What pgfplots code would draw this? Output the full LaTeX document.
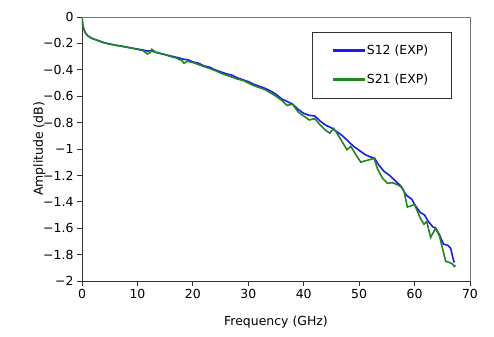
\documentclass[border=0pt]{standalone}
\usepackage{fontspec}
\setmainfont{DejaVu Sans}
\usepackage{pgfplots}
\pgfplotsset{compat=1.18}
\definecolor{sblue}{RGB}{25,25,250}
\definecolor{sgreen}{RGB}{30,135,30}
\definecolor{frame}{RGB}{120,120,120}
\begin{document}
\begin{tikzpicture}
\begin{axis}[
  scale only axis,
  width=388bp, height=264bp,
  xmin=0, xmax=70, ymin=-2, ymax=0,
  xtick={0,10,...,70},
  ytick={-2,-1.8,...,0},
  yticklabels={−2,−1.8,−1.6,−1.4,−1.2,−1,−0.8,−0.6,−0.4,−0.2,0},
  /pgf/number format/assume math mode=true,
  tick label style={font=\fontsize{12.5}{14}\selectfont},
  label style={font=\fontsize{12.5}{14}\selectfont},
  xlabel={Frequency (GHz)},
  ylabel={Amplitude (dB)},
  xlabel style={yshift=-10bp},
  ylabel style={yshift=-9bp},
  axis x line*=bottom, axis y line*=left,
  axis line style={black!80, line width=0.9pt},
  tick style={black!80, line width=0.9pt},
  tick align=outside,
  major tick length=5bp,
  legend style={at={(0.593,0.943)}, anchor=north west, draw=black!80,
    font=\fontsize{12.5}{14}\selectfont, inner xsep=21bp, inner ysep=4bp,
    nodes={inner ysep=9bp}, legend cell align=left},
  legend image code/.code={\fill[#1] (0bp,-0.85bp) rectangle (30bp,0.85bp);},
]
\addplot[sblue, line width=1.6pt] coordinates {
(0,0) (0.1,-0.05) (0.3,-0.09) (0.6,-0.12) (1,-0.14) (1.5,-0.155) (2,-0.165) (3,-0.18)
(4,-0.195) (5,-0.205) (6,-0.213) (7,-0.22) (8,-0.228) (9,-0.235) (10,-0.243) (11,-0.25)
(11.8,-0.258) (12.5,-0.255) (13.5,-0.27) (14.5,-0.28) (15.5,-0.29) (16.5,-0.30) (17.5,-0.31)
(18.3,-0.32) (19.2,-0.325) (20,-0.34) (21,-0.35) (22,-0.37) (23,-0.38) (24,-0.40) (25,-0.415)
(26,-0.43) (27,-0.44) (28,-0.46) (29,-0.475) (30,-0.49) (31,-0.51) (32,-0.525) (33,-0.54)
(34,-0.56) (35,-0.585) (36,-0.62) (37,-0.64) (38,-0.66) (39,-0.70) (40,-0.73) (41,-0.745)
(42,-0.75) (43,-0.79) (44,-0.82) (45,-0.84) (46,-0.87) (47,-0.90) (48,-0.94) (49,-0.98)
(50,-1.01) (51,-1.04) (52,-1.06) (52.8,-1.07) (53.5,-1.12) (54.5,-1.17) (55.5,-1.20)
(56.5,-1.24) (57.5,-1.28) (58.5,-1.35) (59.5,-1.38) (60,-1.42) (61,-1.48) (61.8,-1.50)
(62.5,-1.55) (63.3,-1.59) (63.8,-1.60) (64.5,-1.65) (65.2,-1.72) (66,-1.73) (66.5,-1.75)
(67,-1.84) (67.2,-1.86)
};
\addlegendentry{S12 (EXP)}
\addplot[sgreen, line width=1.6pt] coordinates {
(0,0) (0.1,-0.05) (0.3,-0.09) (0.6,-0.12) (1,-0.14) (1.5,-0.155) (2,-0.165) (3,-0.18)
(4,-0.195) (5,-0.205) (6,-0.213) (7,-0.22) (8,-0.228) (9,-0.236) (10,-0.245) (11,-0.255)
(11.8,-0.28) (12.3,-0.27) (12.6,-0.245) (13.2,-0.265) (14,-0.275) (15,-0.285) (16,-0.30)
(17,-0.31) (18,-0.33) (18.4,-0.35) (19,-0.335) (20,-0.345) (21,-0.36) (22,-0.375) (23,-0.39)
(24,-0.405) (25,-0.425) (26,-0.44) (27,-0.455) (28,-0.47) (29,-0.48) (30,-0.50) (31,-0.52)
(32,-0.535) (33,-0.55) (34,-0.575) (35,-0.60) (36,-0.63) (37,-0.67) (38,-0.66) (39,-0.72)
(40,-0.75) (41,-0.78) (42,-0.77) (43,-0.82) (44,-0.86) (44.7,-0.88) (45.4,-0.845) (46,-0.88)
(47,-0.95) (47.8,-1.005) (48.5,-0.98) (49.5,-1.05) (50.3,-1.10) (51,-1.09) (52,-1.08)
(52.7,-1.07) (53.3,-1.15) (54.2,-1.22) (55.1,-1.26) (56,-1.255) (56.9,-1.27) (57.7,-1.29)
(58.1,-1.32) (58.7,-1.44) (59.4,-1.43) (60,-1.42) (61,-1.52) (61.7,-1.57) (62.2,-1.55)
(62.9,-1.67) (63.8,-1.60) (64.5,-1.66) (65.2,-1.78) (65.6,-1.85) (66.3,-1.86) (66.8,-1.87)
(67.2,-1.89) (67.4,-1.88)
};
\addlegendentry{S21 (EXP)}
\end{axis}
\draw[frame, line width=0.8pt] (current axis.north west) -- (current axis.north east) -- (current axis.south east);
\path (current axis.south west) ++(-82bp,-56bp) rectangle ++(494bp,337bp);
\end{tikzpicture}
\end{document}
